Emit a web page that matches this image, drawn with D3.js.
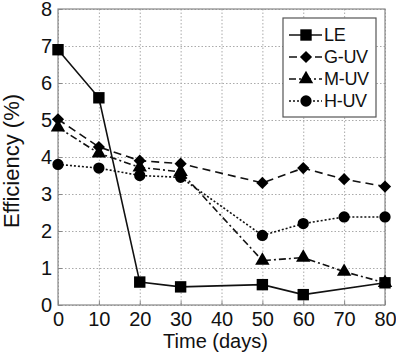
<!DOCTYPE html>
<html>
<head>
  <meta charset="utf-8">
  <script src="https://d3js.org/d3.v7.min.js"></script>
  <style>
    body { margin: 0; background: #fff; }
    text { font-family: "Liberation Sans", Arial, sans-serif; fill: #111; }
    .grid line { stroke: #aaa; stroke-dasharray: 1.5,2; }
    .grid .domain { stroke: none; }
  </style>
</head>
<body>
<svg id="chart" width="396" height="354"></svg>
<script>
  const days = [0, 10, 20, 30, 40, 50, 60, 70, 80];
  const yTicks = [0, 1, 2, 3, 4, 5, 6, 7, 8];

  // null = no point at that day
  const leVals   = [6.9, 5.6, 0.62, 0.49, null, 0.55, 0.28, null, 0.6];
  const guvVals  = [5.02, 4.27, 3.9, 3.82, null, 3.3, 3.7, 3.4, 3.2];
  const muvVals  = [4.8, 4.1, 3.72, 3.6, null, 1.2, 1.28, 0.9, 0.6];
  const huvVals  = [3.8, 3.7, 3.5, 3.45, null, 1.88, 2.2, 2.38, 2.38];

  const seriesNames = ["LE", "G-UV", "M-UV", "H-UV"];
  const seriesVals = [leVals, guvVals, muvVals, huvVals];
  const dashes = [null, "8,5", "7,3,2,3", "2,2"];
  const shapes = [d3.symbolSquare, d3.symbolDiamond2, d3.symbolTriangle, d3.symbolCircle];
  const sizes = [130, 95, 90, 100];

  const margin = {top: 9, right: 11, bottom: 49, left: 58};
  const svg = d3.select("svg#chart");
  const width = +svg.attr("width");
  const height = +svg.attr("height");
  const chartWidth = width - margin.left - margin.right;
  const chartHeight = height - margin.top - margin.bottom;

  const x = d3.scaleLinear().domain([0, 80]).range([0, chartWidth]);
  const y = d3.scaleLinear().domain([0, 8]).range([chartHeight, 0]);

  const chartArea = svg.append("g")
    .attr("transform", "translate(" + margin.left + "," + margin.top + ")");

  // gridlines
  chartArea.append("g").attr("class", "grid")
    .call(d3.axisBottom(x).tickValues(days).tickSize(chartHeight).tickFormat(""));
  chartArea.append("g").attr("class", "grid")
    .call(d3.axisLeft(y).tickValues(yTicks).tickSize(-chartWidth).tickFormat(""));

  // frame
  chartArea.append("rect")
    .attr("width", chartWidth).attr("height", chartHeight)
    .attr("fill", "none").attr("stroke", "#888").attr("stroke-width", 1.2);

  // axes
  const bottomAxis = chartArea.append("g")
    .attr("transform", "translate(0," + chartHeight + ")")
    .call(d3.axisBottom(x).tickValues(days).tickSize(-4).tickPadding(7));
  const leftAxis = chartArea.append("g")
    .call(d3.axisLeft(y).tickValues(yTicks).tickSize(-4).tickPadding(8));
  [bottomAxis, leftAxis].forEach(a => {
    a.select(".domain").remove();
    a.selectAll("line").attr("stroke", "#888");
    a.selectAll("text").style("font-size", "20px").attr("fill", "#111");
  });
  bottomAxis.selectAll("text").attr("dy", "0.72em");
  leftAxis.selectAll("text").attr("dx", "2");

  // series
  const line = d3.line()
    .x(d => x(d.day))
    .y(d => y(d.v));

  seriesVals.forEach((vals, i) => {
    const pts = days.map((day, j) => ({day: day, v: vals[j]})).filter(d => d.v !== null);
    chartArea.append("path")
      .datum(pts)
      .attr("fill", "none")
      .attr("stroke", "#111")
      .attr("stroke-width", 1.6)
      .attr("stroke-dasharray", dashes[i])
      .attr("d", line);
    chartArea.selectAll(null).data(pts).join("path")
      .attr("transform", d => "translate(" + x(d.day) + "," + y(d.v) + ")")
      .attr("d", d3.symbol().type(shapes[i]).size(sizes[i]))
      .attr("fill", "#000");
  });

  // axis titles
  svg.append("text")
    .attr("x", margin.left + chartWidth / 2 - 6)
    .attr("y", 348)
    .attr("text-anchor", "middle")
    .style("font-size", "20px")
    .text("Time (days)");

  svg.append("text")
    .attr("transform", "translate(19," + (margin.top + chartHeight / 2 + 4) + ") rotate(-90)")
    .attr("text-anchor", "middle")
    .style("font-size", "22px")
    .text("Efficiency (%)");

  // legend
  const legend = svg.append("g").attr("transform", "translate(283,18)");
  legend.append("rect")
    .attr("width", 93).attr("height", 99)
    .attr("fill", "#fff").attr("stroke", "#555").attr("stroke-width", 1.2);
  seriesNames.forEach((name, i) => {
    const ly = 17 + i * 22;
    legend.append("line")
      .attr("x1", 6).attr("x2", 39).attr("y1", ly).attr("y2", ly)
      .attr("stroke", "#111").attr("stroke-width", 1.6)
      .attr("stroke-dasharray", dashes[i]);
    legend.append("path")
      .attr("transform", "translate(23," + ly + ")")
      .attr("d", d3.symbol().type(shapes[i]).size(sizes[i]))
      .attr("fill", "#000");
    legend.append("text")
      .attr("x", 41).attr("y", ly + 6)
      .style("font-size", "18px")
      .style("letter-spacing", "-0.3px")
      .text(name);
  });
</script>
</body>
</html>
